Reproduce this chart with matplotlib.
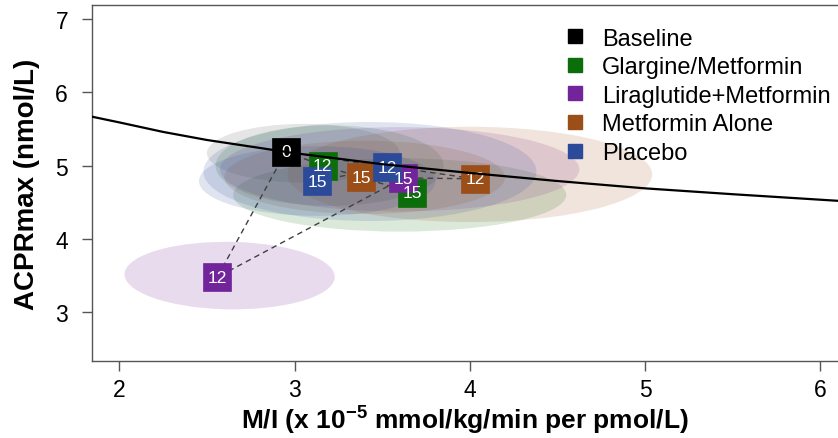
import matplotlib
matplotlib.use('Agg')
import matplotlib.pyplot as plt
from matplotlib.patches import Ellipse
from matplotlib.lines import Line2D

plt.rcParams['font.family'] = ['Liberation Sans', 'DejaVu Sans']

# groups and colours
groups: list[str] = ['Baseline', 'Glargine/Metformin', 'Liraglutide+Metformin', 'Metformin Alone', 'Placebo']
colors: list[str] = ['#000000', '#0b6e0b', '#72259a', '#9c4e18', '#2c4a9a']

# points: group index, week label, M/I, ACPRmax
pt_group: list[int] = [0, 1, 1, 2, 2, 3, 3, 4, 4]
pt_week: list[str] = ['0', '12', '15', '12', '15', '12', '15', '12', '15']
pt_x: list[float] = [2.95, 3.16, 3.67, 2.56, 3.62, 4.03, 3.38, 3.53, 3.13]
pt_y: list[float] = [5.19, 5.00, 4.63, 3.48, 4.83, 4.82, 4.84, 4.98, 4.79]

# confidence ellipses (data units), one per point, same order
ell_x: list[float] = [3.05, 3.20, 3.60, 2.63, 3.60, 4.00, 3.40, 3.43, 3.13]
ell_y: list[float] = [5.17, 5.00, 4.60, 3.50, 4.95, 4.88, 4.84, 4.92, 4.79]
ell_w: list[float] = [1.10, 1.30, 1.90, 1.20, 2.05, 2.08, 1.60, 1.90, 1.35]
ell_h: list[float] = [0.80, 1.10, 1.00, 0.92, 1.15, 1.30, 1.00, 1.35, 0.95]
ell_angle: list[float] = [0, 0, 0, -4, 0, 0, 0, 0, 0]
ell_alpha: list[float] = [0.10, 0.15, 0.15, 0.16, 0.15, 0.15, 0.15, 0.15, 0.15]

# reference curve
curve_x: list[float] = [1.84, 2.0, 2.25, 2.5, 2.75, 3.0, 3.5, 4.0, 4.5, 5.0, 5.5, 6.1]
curve_y: list[float] = [5.67, 5.59, 5.46, 5.35, 5.26, 5.17, 5.02, 4.90, 4.79, 4.69, 4.61, 4.52]

fig = plt.figure(figsize=(8.38, 4.39), dpi=100)
ax = fig.add_axes([0.1094, 0.1747, 0.8906, 0.8123])

for i in range(len(ell_x)):
    c = colors[pt_group[i]]
    ax.add_patch(Ellipse((ell_x[i], ell_y[i]), ell_w[i], ell_h[i], angle=ell_angle[i],
                         facecolor=c, edgecolor='none', alpha=ell_alpha[i], zorder=1))

# trajectories: baseline -> week 12 -> week 15
for g in range(1, len(groups)):
    idx = [i for i in range(len(pt_x)) if pt_group[i] == g]
    i12 = [i for i in idx if pt_week[i] == '12'][0]
    i15 = [i for i in idx if pt_week[i] == '15'][0]
    ax.plot([pt_x[0], pt_x[i12], pt_x[i15]], [pt_y[0], pt_y[i12], pt_y[i15]],
            color='#404040', lw=1, ls=(0, (4, 3)), zorder=2)

for i in range(len(pt_x)):
    c = colors[pt_group[i]]
    ax.plot(pt_x[i], pt_y[i], marker='s', ms=20, color=c, mec=c, mew=0.5, zorder=3)
    ax.text(pt_x[i], pt_y[i], pt_week[i], color='white', fontsize=12.5,
            ha='center', va='center', zorder=4)

ax.plot(curve_x, curve_y, color='black', lw=1.6, zorder=5)

ax.set_xlim(1.843, 6.10)
ax.set_ylim(2.331, 7.195)
ax.set_xticks([2, 3, 4, 5, 6])
ax.set_yticks([3, 4, 5, 6, 7])

for s in ['left', 'bottom', 'top']:
    ax.spines[s].set_color('#555555')
    ax.spines[s].set_linewidth(1)
ax.spines['right'].set_visible(False)
ax.tick_params(axis='both', direction='out', length=7, width=1, color='#555555', labelsize=16.5)
ax.tick_params(axis='y', pad=10)
ax.tick_params(axis='x', pad=5)

ax.set_xlabel(r'M/I (x 10$^{\mathregular{-5}}$ mmol/kg/min per pmol/L)', fontsize=19,
              fontweight='bold', labelpad=1)
ax.set_ylabel('ACPRmax (nmol/L)', fontsize=20, fontweight='bold', labelpad=11)

handles = [Line2D([], [], ls='none', marker='s', ms=10, color=c) for c in colors]
fig.legend(handles, groups, loc='upper left', bbox_to_anchor=(565.6 / 838, 0.935),
           frameon=False, fontsize=17, handlelength=0.8, handletextpad=0.75,
           labelspacing=0.28, borderpad=0, borderaxespad=0)

fig.savefig('out.png', dpi=100)
